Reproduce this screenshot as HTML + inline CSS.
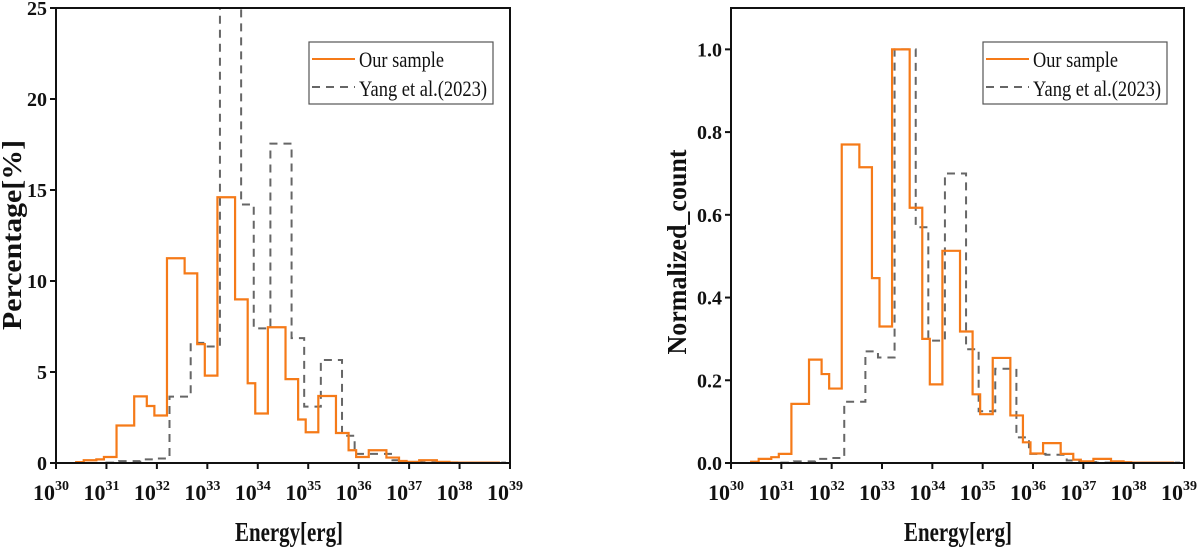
<!DOCTYPE html>
<html><head><meta charset="utf-8"><style>
body{margin:0;background:#fff;}
svg text{font-family:"Liberation Serif",serif;font-weight:bold;fill:#111;}
</style></head><body>
<svg id="c" width="1200" height="548" xmlns="http://www.w3.org/2000/svg"></svg>
<script>
const orangeEdges=[30.4,30.55,30.8,30.95,31.2,31.55,31.8,31.95,32.2,32.55,32.8,32.95,33.2,33.55,33.8,33.95,34.2,34.55,34.8,34.95,35.2,35.55,35.8,35.95,36.2,36.55,36.8,36.95,37.2,37.55,37.8,37.95,38.2,38.55,38.8];
const orangePct=[0.05,0.15,0.2,0.33,2.06,3.66,3.13,2.61,11.25,10.42,6.53,4.8,14.6,8.99,4.38,2.72,7.46,4.61,2.39,1.69,3.68,1.65,0.7,0.33,0.7,0.3,0.11,0.06,0.15,0.06,0.03,0.02,0.02,0.02];
const orangeNorm=[0.003,0.01,0.014,0.022,0.143,0.25,0.215,0.18,0.77,0.715,0.447,0.33,1.0,0.617,0.3,0.19,0.513,0.318,0.166,0.118,0.254,0.115,0.05,0.023,0.048,0.022,0.008,0.004,0.01,0.004,0.002,0.001,0.001,0.001];
const grayEdges=[31.0,31.25,31.67,31.92,32.25,32.67,32.92,33.25,33.67,33.92,34.25,34.67,34.92,35.25,35.67,35.92,36.25,36.67,36.92,37.25,37.67,37.92,38.25,38.67,38.92];
const grayPct=[0.02,0.1,0.2,0.25,3.65,6.6,6.4,25.1,14.2,7.4,17.55,6.86,3.1,5.66,1.5,0.5,0.5,0.15,0.05,0.03,0.03,0.02,0.02,0.02];
const grayNorm=[0.001,0.004,0.01,0.012,0.148,0.27,0.255,1.0,0.57,0.296,0.7,0.275,0.125,0.228,0.062,0.022,0.02,0.006,0.002,0.001,0.001,0.001,0.001,0.001];
const xTicks=[30,31,32,33,34,35,36,37,38,39];
const yTicksL=[0,5,10,15,20,25];
const yTicksR=[0,0.2,0.4,0.6,0.8,1.0];
const NS='http://www.w3.org/2000/svg';
const svg=document.getElementById('c');
function mk(tag,attrs,parent){const e=document.createElementNS(NS,tag);for(const k in attrs)e.setAttribute(k,attrs[k]);(parent||svg).appendChild(e);return e;}
function panel(p){
  const g=mk('g',{});
  
  
  const X=v=>p.x0+(v-30)/9*(p.x1-p.x0);
  const Y=v=>p.yb-v/p.ymax*(p.yb-p.yt);
  const clip=mk('clipPath',{id:p.name+'-clip'},g);
  mk('rect',{x:p.x0,y:p.yt,width:p.x1-p.x0,height:p.yb-p.yt},clip);
  function series(edges,vals,attrs,name){
    let d='M'+X(edges[0])+','+Y(0);
    for(let i=0;i<vals.length;i++){d+=' L'+X(edges[i])+','+Y(vals[i])+' L'+X(edges[i+1])+','+Y(vals[i]);}
    const path=mk('path',Object.assign({d:d,fill:'none','clip-path':'url(#'+p.name+'-clip)'},attrs),g);
    
    
  }
  series(p.gE,p.gV,{stroke:'#666','stroke-width':2,'stroke-dasharray':'8,6'},'yang-2023-series');
  series(p.oE,p.oV,{stroke:'#f57a18','stroke-width':2.2},'our-sample-series');
  const fr=mk('rect',{x:p.x0,y:p.yt,width:p.x1-p.x0,height:p.yb-p.yt,fill:'none',stroke:'#111','stroke-width':2},g);
  
  
  xTicks.forEach(t=>{
    const x=X(t);
    mk('line',{x1:x,x2:x,y1:p.yb,y2:p.yb+6,stroke:'#111','stroke-width':2},g);
    const tx=mk('text',{x:x-5,y:p.yb+37,'font-size':22,'text-anchor':'middle'},g);
    
    
    tx.textContent='10';
    const s=mk('tspan',{dy:-10,'font-size':14},tx);s.textContent=String(t);
  });
  p.yT.forEach(t=>{
    const y=Y(t);
    mk('line',{x1:p.x0-6,x2:p.x0,y1:y,y2:y,stroke:'#111','stroke-width':2},g);
    const tx=mk('text',{x:p.x0-9,y:y+7,'font-size':20,'text-anchor':'end'},g);
    
    
    tx.textContent=p.fmt(t);
  });
  const xt=mk('text',{x:p.xtc,y:541,'font-size':27,'text-anchor':'middle',textLength:108,lengthAdjust:'spacingAndGlyphs'},g);
  
  
  xt.textContent='Energy[erg]';
  const yt=mk('text',{x:0,y:0,'font-size':27,'text-anchor':'middle',textLength:p.ytl,lengthAdjust:'spacingAndGlyphs',transform:'translate('+p.ytx+','+p.ytc+') rotate(-90)'},g);
  
  
  yt.textContent=p.ytitle;
  const lx=p.lx, ly=42;
  const lg=mk('g',{},g);
  
  
  mk('rect',{x:lx,y:ly,width:184,height:62,fill:'#fff',stroke:'#555','stroke-width':1.2},lg);
  mk('line',{x1:lx+3,x2:lx+46,y1:ly+17,y2:ly+17,stroke:'#f57a18','stroke-width':2},lg);
  mk('line',{x1:lx+3,x2:lx+46,y1:ly+45,y2:ly+45,stroke:'#666','stroke-width':2,'stroke-dasharray':'8,6'},lg);
  const t1=mk('text',{x:lx+50,y:ly+25,'font-size':22,textLength:85,lengthAdjust:'spacingAndGlyphs'},lg);t1.style.fontWeight='normal';t1.textContent='Our sample';
  
  
  const t2=mk('text',{x:lx+50,y:ly+54,'font-size':22,textLength:128,lengthAdjust:'spacingAndGlyphs'},lg);t2.style.fontWeight='normal';t2.textContent='Yang et al.(2023)';
  
  
}
panel({name:'percentage-chart',x0:56,x1:510,yt:8,yb:463,ymax:25,oE:orangeEdges,oV:orangePct,gE:grayEdges,gV:grayPct,yT:yTicksL,fmt:t=>String(t),ytitle:'Percentage[%]',ytx:21,ytc:235,ytl:190,xtc:289,lx:309});
panel({name:'normalized-chart',x0:731,x1:1184,yt:8,yb:463,ymax:1.1,oE:orangeEdges,oV:orangeNorm,gE:grayEdges,gV:grayNorm,yT:yTicksR,fmt:t=>t.toFixed(1),ytitle:'Normalized_count',ytx:686,ytc:252,ytl:205,xtc:958,lx:983});
</script>
</body></html>
